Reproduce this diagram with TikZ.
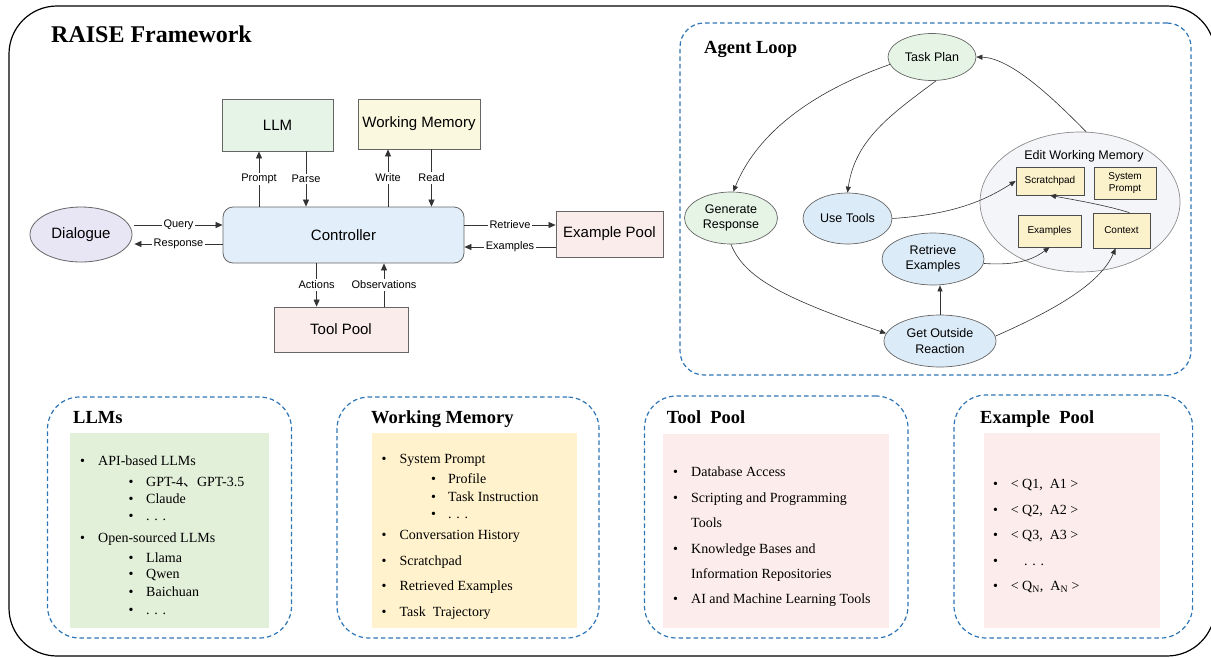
\documentclass[tikz,border=0pt]{standalone}
\usepackage{fontspec}
\setmainfont{Liberation Serif}
\newfontfamily\arial{Liberation Sans}
\newfontfamily\cjk{Noto Sans CJK SC}
\usetikzlibrary{arrows.meta,shapes.geometric}
\definecolor{dashblue}{HTML}{2E75B6}
\definecolor{llmgreen}{HTML}{E6F4E8}
\definecolor{wmyellow}{HTML}{FBF8E0}
\definecolor{ctrlblue}{HTML}{E2EFFA}
\definecolor{dialav}{HTML}{E8E5F5}
\definecolor{poolpink}{HTML}{FBECEC}
\definecolor{loopgreen}{HTML}{E5F4E5}
\definecolor{loopblue}{HTML}{DCEBF8}
\definecolor{ewmgray}{HTML}{F4F5F8}
\definecolor{smallyel}{HTML}{FBF1CB}
\definecolor{pgreen}{HTML}{E2EFD9}
\definecolor{pyellow}{HTML}{FFF2CC}
\definecolor{ppink}{HTML}{FCEDEC}
\definecolor{boxline}{HTML}{666666}
\tikzset{
  box/.style={draw=boxline, line width=0.8pt, inner sep=0pt, font=\arial\fontsize{15}{18}\selectfont},
  lbl/.style={font=\arial\fontsize{11}{13}\selectfont, inner sep=1.5pt, fill=white},
  arr/.style={-{Triangle[length=7pt,width=6pt]}, line width=0.7pt, draw=black!80},
  oval/.style={ellipse, draw=boxline, line width=0.7pt, inner sep=0pt, font=\arial\fontsize{12.5}{15.5}\selectfont, align=center},
  sbox/.style={draw=black!70, line width=0.7pt, fill=smallyel, inner sep=0pt, font=\arial\fontsize{10}{12}\selectfont, align=center},
  larr/.style={-{Triangle[length=6pt,width=5pt]}, line width=0.6pt, draw=black!80},
  panel/.style={draw=dashblue, dash pattern=on 4.5pt off 3pt, line width=1.2pt, rounded corners=32pt, inner sep=0pt},
  ptitle/.style={font=\bfseries\fontsize{18.5}{21}\selectfont, anchor=base west, inner sep=0pt},
  item/.style={font=\fontsize{14}{16}\selectfont, anchor=base west, inner sep=0pt},
  bul/.style={font=\fontsize{14}{16}\selectfont, anchor=base west, inner sep=0pt},
}
\begin{document}
\begin{tikzpicture}[x=1pt,y=-1pt]
\useasboundingbox (0,0) rectangle (1211,657);
\begin{scope}
\clip (0,0) rectangle (1211,657);
\draw[line width=1.2pt, rounded corners=48pt] (9,6) rectangle (1215,656);
\end{scope}
\node[font=\bfseries\fontsize{24}{28}\selectfont, anchor=base west, inner sep=0pt] (title) at (51,42) {RAISE Framework};

% ---------- left diagram ----------
\node[box, fill=llmgreen, minimum width=111pt, minimum height=52pt] (llm) at (277.5,125) {LLM};
\node[box, fill=wmyellow, minimum width=122pt, minimum height=50pt] (wm) at (419,124) {Working Memory};
\node[box, fill=ctrlblue, rounded corners=10pt, minimum width=241pt, minimum height=56pt] (ctrl) at (343.5,235) {Controller};
\node[box, ellipse, fill=dialav, minimum width=102pt, minimum height=55pt] (dia) at (81,234.5) {Dialogue};
\node[box, fill=poolpink, minimum width=107pt, minimum height=46pt] (expool) at (609.5,234) {Example Pool};
\node[box, fill=poolpink, minimum width=134pt, minimum height=45pt] (tpool) at (341,329.5) {Tool Pool};

\coordinate (xP) at (259,0);
\coordinate (xPa) at (306,0);
\coordinate (xW) at (388,0);
\coordinate (xR) at (431.5,0);
\coordinate (xA) at (316.6,0);
\coordinate (xO) at (384,0);
\coordinate (yQ) at (0,225);
\coordinate (yRs) at (0,244);
\coordinate (yRt) at (0,225);
\coordinate (yE) at (0,247);

\draw[arr] (ctrl.north -| xP) -- node[lbl] (lp) {Prompt} (llm.south -| xP);
\draw[arr] (llm.south -| xPa) -- node[lbl] (lpa) {Parse} (ctrl.north -| xPa);
\draw[arr] (ctrl.north -| xW) -- node[lbl] (lw) {Write} (wm.south -| xW);
\draw[arr] (wm.south -| xR) -- node[lbl] (lr) {Read} (ctrl.north -| xR);
\draw[arr] ([xshift=2pt]dia.east |- yQ) -- node[lbl] (lq) {Query} (ctrl.west |- yQ);
\draw[arr] (ctrl.west |- yRs) -- node[lbl] (lrs) {Response} ([xshift=2pt]dia.east |- yRs);
\draw[arr] (ctrl.east |- yRt) -- node[lbl] (lrt) {Retrieve} (expool.west |- yRt);
\draw[arr] (expool.west |- yE) -- node[lbl] (le) {Examples} (ctrl.east |- yE);
\draw[arr] (ctrl.south -| xA) -- node[lbl] (la) {Actions} (tpool.north -| xA);
\draw[arr] (tpool.north -| xO) -- node[lbl] (lo) {Observations} (ctrl.south -| xO);

% ---------- agent loop ----------
\node[panel, rounded corners=24pt, minimum width=511pt, minimum height=352pt] (loop) at (935.5,199) {};
\node[ptitle] (looptitle) at (704,53) {Agent Loop};
\node[oval, fill=ewmgray, draw=black!45, minimum width=200pt, minimum height=140pt] (ewm) at (1080,202) {};
\node[font=\arial\fontsize{12.5}{15}\selectfont, inner sep=0pt] (ewmt) at (1084,156) {Edit Working Memory};
\node[oval, fill=loopgreen, minimum width=88pt, minimum height=47pt] (tp) at (932,57) {Task Plan};
\node[oval, fill=loopgreen, minimum width=93pt, minimum height=52pt] (gr) at (731,218) {Generate\\Response};
\node[oval, fill=loopblue, minimum width=89pt, minimum height=51pt] (ut) at (847.5,218.5) {Use Tools};
\node[oval, fill=loopblue, minimum width=102pt, minimum height=52pt] (re) at (933,259) {Retrieve\\Examples};
\node[oval, fill=loopblue, minimum width=112pt, minimum height=52pt] (gor) at (940,341) {Get Outside\\Reaction};
\node[sbox, minimum width=68pt, minimum height=28pt] (scr) at (1050,181) {Scratchpad};
\node[sbox, minimum width=62pt, minimum height=32pt] (sys) at (1125,183) {System\\Prompt};
\node[sbox, minimum width=63pt, minimum height=32pt] (exb) at (1049.5,231) {Examples};
\node[sbox, minimum width=57pt, minimum height=35pt] (ctx) at (1121.5,230.5) {Context};

\draw[larr] (tp.190) .. controls (795,98) and (752,145) .. (gr.85);
\draw[larr] (tp.-80) .. controls (890,115) and (855,140) .. (ut.north);
\draw[larr] (ewm.85) .. controls (1050,95) and (1010,58) .. (tp.east);
\draw[larr] (ut.east) .. controls (960,214) and (990,197) .. (scr.west);
\draw[larr] (gr.south) .. controls (745,280) and (790,300) .. (gor.172);
\draw[larr] (gor.north) -- (re.south -| gor.north);
\draw[larr] (re.-5) .. controls (1020,266) and (1035,258) .. (exb.south);
\draw[larr] (gor.5) .. controls (1050,312) and (1100,285) .. ([xshift=-6pt]ctx.south);
\draw[larr] ([xshift=8pt]ctx.north) .. controls (1105,205) and (1075,200) .. (scr.south);

% ---------- bottom panels ----------
\node[panel, minimum width=244pt, minimum height=241pt] (p1) at (169.5,517.5) {};
\node[fill=pgreen, inner sep=0pt, minimum width=198.6pt, minimum height=195.3pt] (f1) at (169.7,530.35) {};
\node[ptitle] (t1) at (73,423) {LLMs};
\node[bul] (b11) at (80,465) {•}; \node[item] (i11) at (98,465) {API-based LLMs};
\node[bul] (b12) at (128.5,486) {•}; \node[item] (i12) at (146,486) {GPT-4{\cjk 、}GPT-3.5};
\node[bul] (b13) at (128.5,503) {•}; \node[item] (i13) at (146,503) {Claude};
\node[bul] (b14) at (128.5,520) {•}; \node[item] (i14) at (146,520) {. . .};
\node[bul] (b15) at (80,542) {•}; \node[item] (i15) at (98,542) {Open-sourced LLMs};
\node[bul] (b16) at (128.5,562) {•}; \node[item] (i16) at (146,562) {Llama};
\node[bul] (b17) at (128.5,578.5) {•}; \node[item] (i17) at (146,578.5) {Qwen};
\node[bul] (b18) at (128.5,596) {•}; \node[item] (i18) at (146,596) {Baichuan};
\node[bul] (b19) at (128.5,614) {•}; \node[item] (i19) at (146,614) {. . .};

\node[panel, minimum width=262pt, minimum height=241pt] (p2) at (468,517.5) {};
\node[fill=pyellow, inner sep=0pt, minimum width=204.8pt, minimum height=195.3pt] (f2) at (474.1,530.35) {};
\node[ptitle] (t2) at (371,423) {Working Memory};
\node[bul] (b21) at (381.5,463) {•}; \node[item] (i21) at (399.4,463) {System Prompt};
\node[bul] (b22) at (431,483) {•}; \node[item] (i22) at (448,483) {Profile};
\node[bul] (b23) at (431,501) {•}; \node[item] (i23) at (448,501) {Task Instruction};
\node[bul] (b24) at (431,518) {•}; \node[item] (i24) at (448,518) {. . .};
\node[bul] (b25) at (381.5,539) {•}; \node[item] (i25) at (399.4,539) {Conversation History};
\node[bul] (b26) at (381.5,565) {•}; \node[item] (i26) at (399.4,565) {Scratchpad};
\node[bul] (b27) at (381.5,590) {•}; \node[item] (i27) at (399.4,590) {Retrieved Examples};
\node[bul] (b28) at (381.5,616) {•}; \node[item] (i28) at (399.4,616) {Task\ \ Trajectory};

\node[panel, minimum width=263.5pt, minimum height=242pt] (p3) at (776.25,517) {};
\node[fill=ppink, inner sep=0pt, minimum width=226pt, minimum height=194pt] (f3) at (776,531) {};
\node[ptitle] (t3) at (666.7,423) {Tool\ \ Pool};
\node[bul] (b31) at (673,476) {•}; \node[item] (i31) at (691,476) {Database Access};
\node[bul] (b32) at (673,502) {•}; \node[item] (i32) at (691,502) {Scripting and Programming};
\node[item] (i33) at (691,527) {Tools};
\node[bul] (b34) at (673,553) {•}; \node[item] (i34) at (691,553) {Knowledge Bases and};
\node[item] (i35) at (691,578) {Information Repositories};
\node[bul] (b36) at (673,603) {•}; \node[item] (i36) at (691,603) {AI and Machine Learning Tools};

\node[panel, minimum width=238.6pt, minimum height=243pt] (p4) at (1073.3,516.5) {};
\node[fill=ppink, inner sep=0pt, minimum width=176.3pt, minimum height=195.3pt] (f4) at (1071.85,530.35) {};
\node[ptitle] (t4) at (980,423) {Example\ \ Pool};
\node[bul] (b41) at (993,488) {•}; \node[item] (i41) at (1010.6,488) {< Q1,\ \ A1 >};
\node[bul] (b42) at (993,514) {•}; \node[item] (i42) at (1010.6,514) {< Q2,\ \ A2 >};
\node[bul] (b43) at (993,539) {•}; \node[item] (i43) at (1010.6,539) {< Q3,\ \ A3 >};
\node[bul] (b44) at (993,565) {•}; \node[item] (i44) at (1024,565) {. . .};
\node[bul] (b45) at (993,590) {•}; \node[item] (i45) at (1010.6,590) {< Q\textsubscript{N},\ \ A\textsubscript{N} >};
\end{tikzpicture}
\end{document}
